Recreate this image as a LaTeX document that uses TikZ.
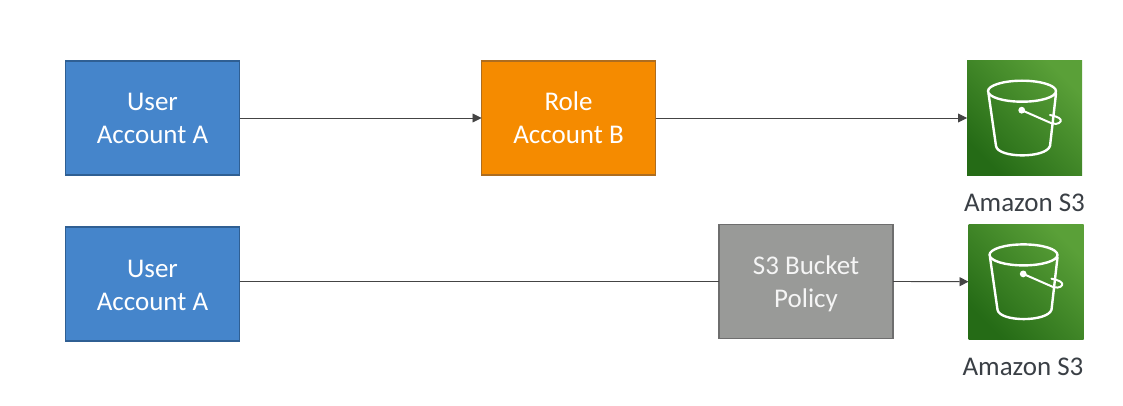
\documentclass[tikz,border=0pt]{standalone}
\usepackage{fontspec}
\setmainfont{Carlito}
\usetikzlibrary{arrows.meta}
\definecolor{boxblue}{HTML}{4585CB}
\definecolor{edgeblue}{HTML}{2F5F93}
\definecolor{boxorange}{HTML}{F58B00}
\definecolor{edgeorange}{HTML}{AD6D20}
\definecolor{boxgray}{HTML}{999A98}
\definecolor{edgegray}{HTML}{6E6E6E}
\definecolor{linecol}{HTML}{444444}
\definecolor{labelcol}{HTML}{3A3F45}
\definecolor{greendark}{HTML}{256B16}
\definecolor{greenlight}{HTML}{5AA038}
\tikzset{
  x=1pt,y=-1pt,
  boxnode/.style={rectangle,minimum width=174pt,minimum height=114pt,line width=1.2pt,
    inner sep=0pt,outer sep=0pt,align=center,text=white,
    font=\fontsize{27pt}{33pt}\selectfont},
  bluebox/.style={boxnode,fill=boxblue,draw=edgeblue},
  orangebox/.style={boxnode,fill=boxorange,draw=edgeorange},
  graybox/.style={boxnode,fill=boxgray,draw=edgegray,text=white!96!black},
  iconnode/.style={rectangle,minimum width=115pt,minimum height=115pt,inner sep=0pt,outer sep=0pt,
    left color=greendark,right color=greenlight,shading angle=135},
  iconlabel/.style={text=labelcol,inner sep=0pt,font=\fontsize{27pt}{33pt}\selectfont},
  link/.style={draw=linecol,line width=0.9pt},
  arrowlink/.style={link,-{Triangle[length=9pt,width=9pt]}},
  bucketline/.style={draw=white,line width=2.4pt,line join=round,line cap=round},
}
\newcommand{\twolines}[2]{\rule{0pt}{25pt}#1\\#2\rule[-6pt]{0pt}{6pt}}
\newcommand{\bucketicon}[1]{%
  \begin{scope}[shift={(#1.north west)}]
    \draw[bucketline] (55,30.7) ellipse [x radius=34,y radius=10.5];
    \draw[bucketline] (21.5,33) -- (29,85.5)
      .. controls (31,98) and (79,98) .. (83,85.5) -- (89,33);
    \fill[white] (54.7,49.7) circle [radius=3.4];
    \draw[bucketline,line width=2pt] (54.7,49.7) -- (85,63)
      .. controls (91,64.5) and (95,61.5) .. (93.5,59)
      .. controls (92,56.5) and (87,55.5) .. (83,54.5);
  \end{scope}}
\begin{document}
\begin{tikzpicture}
\useasboundingbox (0,0) rectangle (1123,406);
\node[bluebox] (userA) at (152.5,118) {\twolines{User}{Account A}};
\node[orangebox] (role) at (568.5,118) {\twolines{Role}{Account B}};
\node[iconnode] (s3a) at (1024.5,118) {};
\node[iconlabel] (s3alabel) at (1024.5,203) {Amazon S3};
\node[bluebox] (userB) at (152.5,284) {\twolines{User}{Account A}};
\node[graybox] (policy) at (806,281.5) {\twolines{S3 Bucket}{Policy}};
\node[iconnode] (s3b) at (1026,281.7) {};
\node[iconlabel] (s3blabel) at (1023,367) {Amazon S3};
\bucketicon{s3a}
\bucketicon{s3b}
\draw[arrowlink] (userA.east) -- (role.west);
\draw[arrowlink] (role.east) -- (s3a.west);
\draw[link] (userB.east |- policy.west) -- (policy.west);
\draw[arrowlink] (policy.east) -- (s3b.west);
\end{tikzpicture}
\end{document}
